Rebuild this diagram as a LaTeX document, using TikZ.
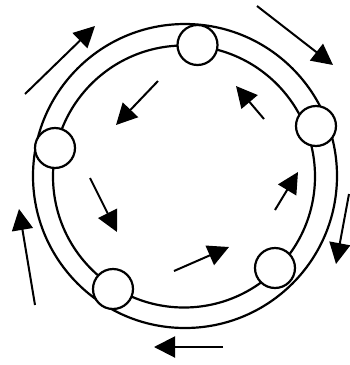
\documentclass[tikz,border=0pt]{standalone}
\usetikzlibrary{arrows.meta}
\begin{document}
\begin{tikzpicture}[x=1pt,y=-1pt,
  ringline/.style={line width=2.2pt},
  ball/.style={circle, draw, fill=white, minimum size=40pt, inner sep=0pt, line width=2.2pt},
  flow/.style={-{Triangle[length=21pt,width=21pt]}, line width=2pt}]
\useasboundingbox (0,0) rectangle (349,365);
% ring
\draw[ringline] (185,176) circle[radius=152pt];
\draw[ringline] (184,176.5) circle[radius=131pt];
% balls
\node[ball] (btop) at (197.5,45) {};
\node[ball] (bright) at (316,126) {};
\node[ball] (bleft) at (55,148) {};
\node[ball] (bbr) at (275,268) {};
\node[ball] (bbl) at (113,289) {};
% outer arrows
\coordinate (o1s) at (25,94);   \coordinate (o1e) at (95,26);
\coordinate (o2s) at (257,6);   \coordinate (o2e) at (333,65);
\coordinate (o3s) at (349,194); \coordinate (o3e) at (336,264);
\coordinate (o4s) at (223,347); \coordinate (o4e) at (154,347);
\coordinate (o5s) at (35,305);  \coordinate (o5e) at (19,209);
\draw[flow] (o1s) -- (o1e);
\draw[flow] (o2s) -- (o2e);
\draw[flow] (o3s) -- (o3e);
\draw[flow] (o4s) -- (o4e);
\draw[flow] (o5s) -- (o5e);
% inner arrows
\coordinate (i1s) at (158,81);  \coordinate (i1e) at (116,125);
\coordinate (i2s) at (264,119); \coordinate (i2e) at (236,86);
\coordinate (i3s) at (275,210); \coordinate (i3e) at (298,172);
\coordinate (i4s) at (174,271); \coordinate (i4e) at (229,247);
\coordinate (i5s) at (90,178);  \coordinate (i5e) at (117,232);
\draw[flow] (i1s) -- (i1e);
\draw[flow] (i2s) -- (i2e);
\draw[flow] (i3s) -- (i3e);
\draw[flow] (i4s) -- (i4e);
\draw[flow] (i5s) -- (i5e);
\end{tikzpicture}
\end{document}
